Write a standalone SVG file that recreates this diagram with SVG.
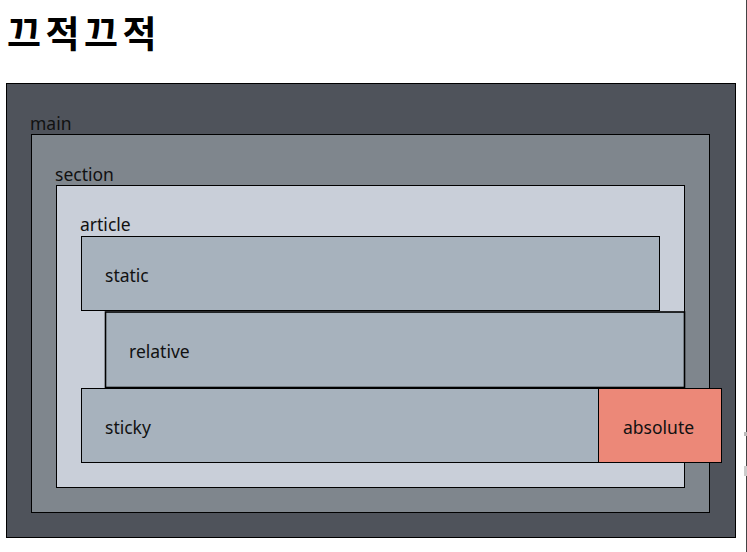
<svg xmlns="http://www.w3.org/2000/svg" width="747" height="552" viewBox="0 0 747 552">
<style>
.box{stroke:#000;stroke-width:1}
.lbl{font-family:"Noto Sans","Open Sans","Noto Sans CJK KR",sans-serif;font-size:17.5px;fill:#111}
.title{font-family:"Noto Sans CJK KR","Noto Sans",sans-serif;font-size:37px;font-weight:bold;fill:#000;letter-spacing:4.5px}
</style>
<rect width="747" height="552" fill="#fff"/>
<text class="title" x="7" y="48">끄적끄적</text>
<line x1="746.5" y1="0" x2="746.5" y2="552" stroke="#444" stroke-width="1"/>
<rect x="744" y="432" width="3" height="4" fill="#bbb"/>
<rect x="744" y="466" width="3" height="10" fill="#ccc"/>
<g id="main">
<rect class="box" x="6.5" y="83.5" width="729" height="454" fill="#4f535b"/>
<text class="lbl" x="30" y="130">main</text>
</g>
<g id="section">
<rect class="box" x="31.5" y="134.5" width="678" height="378" fill="#7f868d"/>
<text class="lbl" x="55" y="181">section</text>
</g>
<g id="article">
<rect class="box" x="56.5" y="185.5" width="628" height="302" fill="#c9cfd9"/>
<text class="lbl" x="80" y="231">article</text>
</g>
<g id="static">
<rect class="box" x="81.5" y="236.5" width="578" height="74" fill="#a7b2bd"/>
<text class="lbl" x="105" y="282">static</text>
</g>
<g id="relative">
<rect x="105.5" y="312" width="579" height="75.5" fill="#a7b2bd" stroke="#000" stroke-width="1.6"/>
<text class="lbl" x="129" y="358">relative</text>
</g>
<g id="sticky">
<rect class="box" x="81.5" y="388.5" width="578" height="74" fill="#a7b2bd"/>
<text class="lbl" x="105" y="434">sticky</text>
</g>
<g id="absolute">
<rect class="box" x="598.5" y="388.5" width="123" height="74" fill="#ec8878"/>
<text class="lbl" x="623" y="434">absolute</text>
</g>
<g id="connectors"></g>
</svg>
